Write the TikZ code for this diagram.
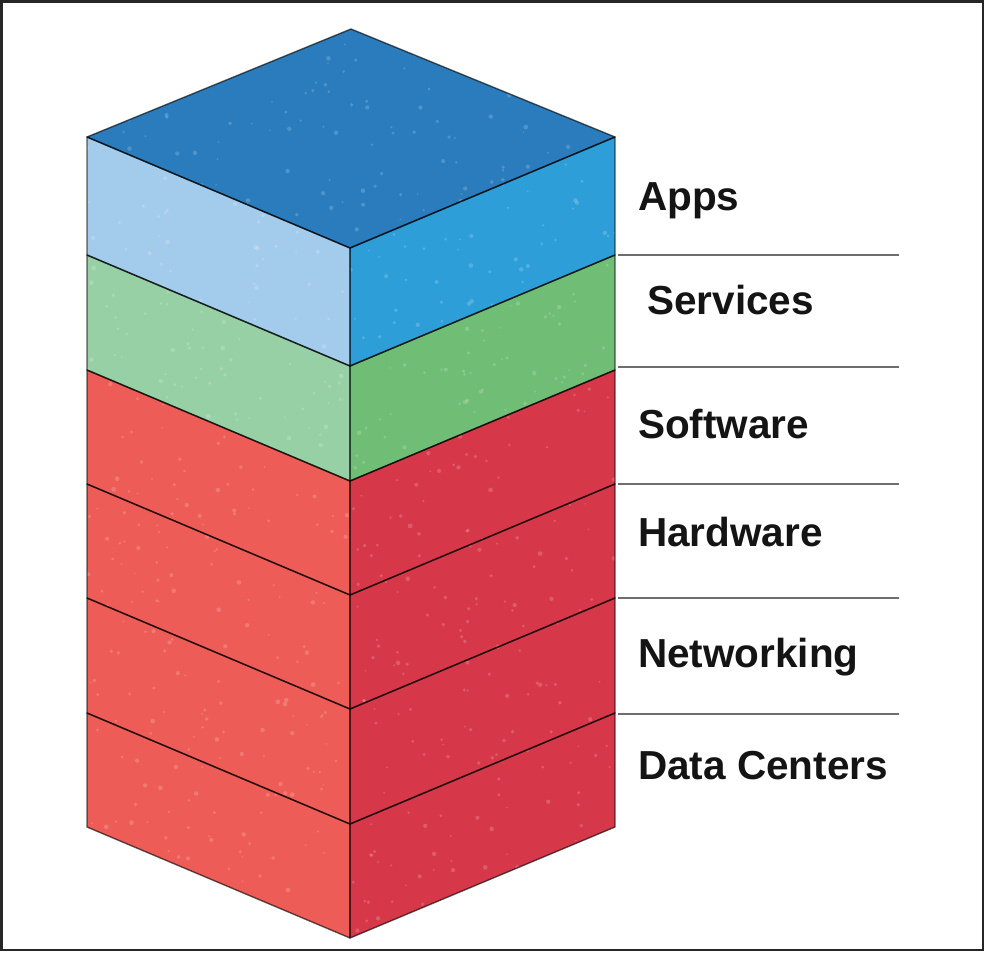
\documentclass[tikz,border=0pt]{standalone}
\usepackage{fontspec}
\setmainfont{Liberation Sans}
\definecolor{topblue}{RGB}{42,124,189}
\definecolor{appsL}{RGB}{163,203,236}
\definecolor{appsR}{RGB}{46,158,216}
\definecolor{servL}{RGB}{152,208,166}
\definecolor{servR}{RGB}{112,190,118}
\definecolor{redL}{RGB}{237,92,86}
\definecolor{redR}{RGB}{214,56,74}
\definecolor{sepgray}{RGB}{110,110,110}
\begin{document}
\begin{tikzpicture}[x=1pt,y=-1pt,
  face/.style={draw=black, draw opacity=0.62, line width=1.4pt, line join=round},
  speck/.style={fill=white, fill opacity=0.18},
  lab/.style={anchor=base west, inner sep=0pt, font=\fontsize{40.5}{48}\selectfont\bfseries, text=black!92},
  sepline/.style={draw=sepgray, line width=2.6pt}]
\useasboundingbox (0,0) rectangle (985,953);
\fill[white] (0,0) rectangle (985,953);
\draw[black!85, line width=2.5pt] (1.5,1.5) rectangle (983,950);
\pgfmathsetseed{7}
% layers
\foreach \t/\b/\L/\R in {137/255/appsL/appsR, 255/370/servL/servR, 370/484/redL/redR, 484/598/redL/redR, 598/713/redL/redR, 713/827/redL/redR}{
  \fill[\L] (87,\t) -- (350,{\t+111}) -- (350,{\b+111}) -- (87,\b) -- cycle;
  \fill[\R] (350,{\t+111}) -- (615,\t) -- (615,\b) -- (350,{\b+111}) -- cycle;
}
\fill[topblue] (351,29) -- (615,137) -- (350,248) -- (87,137) -- cycle;
% light speckle texture over the block
\begin{scope}
  \clip (351,29) -- (615,137) -- (615,827) -- (350,938) -- (87,827) -- (87,137) -- cycle;
  \foreach \i in {1,...,700}{
    \pgfmathsetmacro{\px}{87+528*rnd}
    \pgfmathsetmacro{\py}{29+909*rnd}
    \pgfmathsetmacro{\pr}{0.8+1.6*rnd}
    \fill[speck] (\px,\py) circle[radius=\pr];
  }
\end{scope}
% edges
\foreach \t/\b in {137/255, 255/370, 370/484, 484/598, 598/713, 713/827}{
  \path[face] (87,\t) -- (350,{\t+111}) -- (350,{\b+111}) -- (87,\b) -- cycle;
  \path[face] (350,{\t+111}) -- (615,\t) -- (615,\b) -- (350,{\b+111}) -- cycle;
}
\path[face] (351,29) -- (615,137) -- (350,248) -- (87,137) -- cycle;
% separator lines
\foreach \y in {255,367,484,598,714}{
  \draw[sepline] (618,\y) -- (899,\y);
}
% labels
\node[lab] (apps) at (638,210) {Apps};
\node[lab] (services) at (647,314) {Services};
\node[lab] (software) at (638,438) {Software};
\node[lab] (hardware) at (638,546) {Hardware};
\node[lab] (networking) at (638,667) {Networking};
\node[lab] (datacenters) at (638,779) {Data Centers};
\end{tikzpicture}
\end{document}
